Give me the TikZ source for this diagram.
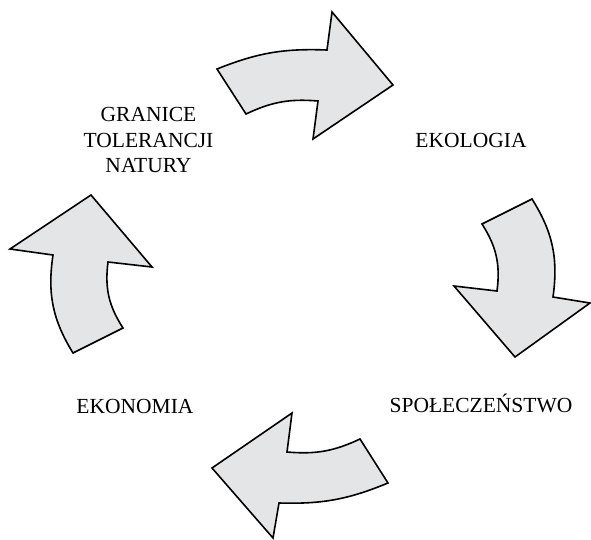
\documentclass[tikz,border=0pt]{standalone}
\usepackage{fontspec}
\setmainfont{Liberation Serif}
\usetikzlibrary{positioning}
\definecolor{arrowcolor}{RGB}{228,229,230}

\begin{document}
\begin{tikzpicture}[
    x=1pt, y=-1pt,
    bigarrow/.style={draw, fill=arrowcolor, line width=1.6pt, line join=miter},
    stage/.style={font=\fontsize{21.5}{25.5}\selectfont, align=center, inner sep=0pt}
]
\useasboundingbox (0,0) rectangle (591,539);

% Top arrow
\draw[bigarrow] (217,69) to[bend left=12] (327,50) -- (332,12) -- (393,85) -- (313,139)
    -- (318,101) to[bend right=15] (246,114) -- cycle;

% Right arrow
\draw[bigarrow] (482,224) -- (532,199) to[bend left=20] (553,297) -- (590,303) -- (515,357)
    -- (454,286) -- (497,291) to[bend right=20] cycle;

% Bottom arrow
\draw[bigarrow] (360,439) to[bend left=15] (287,452) -- (292,413) -- (212,468) -- (273,538)
    -- (279,503) to[bend right=12] (388,483) -- cycle;

% Left arrow
\draw[bigarrow] (73,353) -- (123,328) to[bend left=20] (108,262) -- (152,267) -- (91,195)
    -- (10,249) -- (53,255) to[bend right=20] cycle;

% Labels
\node[stage] (granice) at (148.5,140) {GRANICE\\TOLERANCJI\\NATURY};
\node[stage, anchor=base] (ekologia) at (471,147.5) {EKOLOGIA};
\node[stage, anchor=base] (spoleczenstwo) at (481,412.5) {SPOŁECZEŃSTWO};
\node[stage, anchor=base] (ekonomia) at (135,413) {EKONOMIA};

\end{tikzpicture}
\end{document}
